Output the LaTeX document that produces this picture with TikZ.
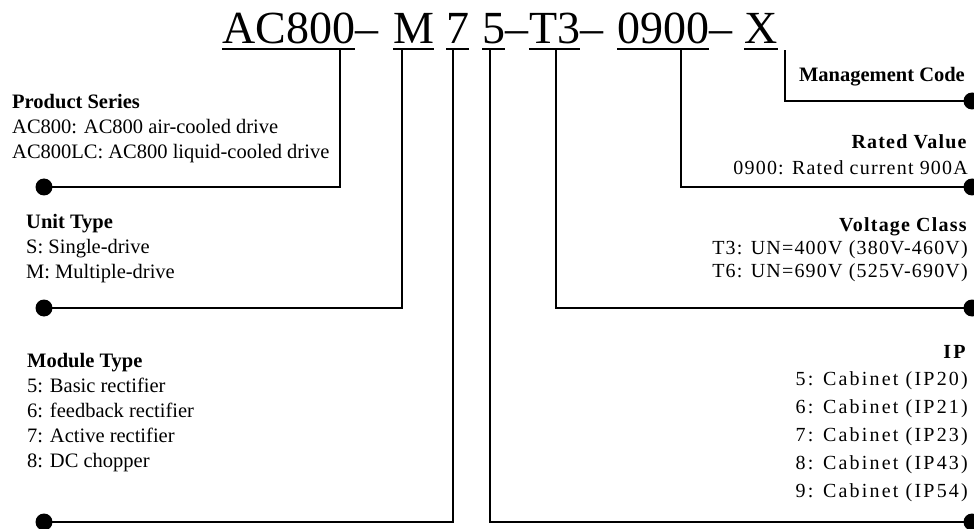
\documentclass[tikz,border=0pt]{standalone}
\usepackage{fontspec}
\setmainfont{Liberation Serif}
\newfontfamily\spacedfont[LetterSpace=6]{Liberation Serif}
\newfontfamily\widefont[LetterSpace=11]{Liberation Serif}

\tikzset{
  code/.style={font=\fontsize{46}{46}\selectfont, inner sep=0pt, anchor=base west},
  uline/.style={line width=1.6pt},
  lead/.style={line width=1.6pt},
  enddot/.style={circle, fill=black, inner sep=0pt, minimum size=17pt},
  leftinfo/.style={font=\fontsize{20.5}{25}\selectfont, align=left,
    anchor=base west, inner sep=0pt},
  rightinfo/.style={font=\spacedfont\fontsize{20}{25}\selectfont, align=right,
    anchor=base east, inner sep=0pt}
}

\begin{document}
\begin{tikzpicture}[x=1pt, y=-1pt]

  \useasboundingbox (0,0) rectangle (974,529);

  % ================================================================
  % Type code (top line)
  % ================================================================

  \node[code] (tAC) at (222,44) {AC800};
  \node[code] (d1) at (tAC.base east) {--};
  \node[code] (tM) at (393,44) {M};
  \node[code] (t7) at (446,44) {7};
  \node[code] (t5) at (482,44) {5};
  \node[code] (d2) at (t5.base east) {--};
  \node[code] (tT) at (d2.base east) {T3};
  \node[code] (d3) at (tT.base east) {--};
  \node[code] (t09) at (617,44) {0900};
  \node[code] (d4) at (t09.base east) {--};
  \node[code] (tX) at (744,44) {X};

  \foreach \seg in {tAC, tM, t7, t5, tT, t09, tX}
    \draw[uline] ([yshift=-5pt]\seg.base west) -- ([yshift=-5pt]\seg.base east);

  % taps under the code
  \coordinate (tapAC) at (340,49);
  \coordinate (tapM)  at (402,49);
  \coordinate (tap7)  at (453,49);
  \coordinate (tap5)  at (490,49);
  \coordinate (tapT)  at (556,49);
  \coordinate (tap09) at (681,49);
  \coordinate (tapX)  at (785,50);

  % ================================================================
  % Left side (base = last line)
  % ================================================================

  \node[leftinfo] (psText) at (12,159)
    {\textbf{Product Series}\\
     AC800: AC800 air-cooled drive\\
     AC800LC: AC800 liquid-cooled drive};
  \node[enddot] (psDot) at (44,187) {};

  \node[leftinfo] (utText) at (26,279)
    {\textbf{Unit Type}\\
     S: Single-drive\\
     M: Multiple-drive};
  \node[enddot] (utDot) at (44,308) {};

  \node[leftinfo] (mtText) at (27,467)
    {\textbf{Module Type}\\
     5: Basic rectifier\\
     6: feedback rectifier\\
     7: Active rectifier\\
     8: DC chopper};
  \node[enddot] (mtDot) at (44,522) {};

  % ================================================================
  % Right side (base = last line)
  % ================================================================

  \node[rightinfo, font=\fontsize{20.5}{25}\selectfont] (mcText) at (965,82)
    {\textbf{Management Code}};
  \node[enddot] (mcDot) at (972,101) {};

  \node[rightinfo, font=\spacedfont\fontsize{20}{26}\selectfont] (rvText) at (968,175)
    {\textbf{Rated Value}\\
     0900: Rated current 900A};
  \node[enddot] (rvDot) at (972,187) {};

  \node[rightinfo, font=\spacedfont\fontsize{20}{23.5}\selectfont] (vcText) at (968,278)
    {\textbf{Voltage Class}\\
     T3: UN=400V (380V-460V)\\
     T6: UN=690V (525V-690V)};
  \node[enddot] (vcDot) at (972,308) {};

  \node[rightinfo, font=\widefont\fontsize{20}{27.8}\selectfont] (ipText) at (968,497)
    {\textbf{IP}\\
     5: Cabinet (IP20)\\
     6: Cabinet (IP21)\\
     7: Cabinet (IP23)\\
     8: Cabinet (IP43)\\
     9: Cabinet (IP54)};
  \node[enddot] (ipDot) at (972,522) {};

  % ================================================================
  % Leads
  % ================================================================

  \draw[lead] (psDot.center) -| (tapAC);
  \draw[lead] (utDot.center) -| (tapM);
  \draw[lead] (mtDot.center) -| (tap7);
  \draw[lead] (ipDot.center) -| (tap5);
  \draw[lead] (vcDot.center) -| (tapT);
  \draw[lead] (rvDot.center) -| (tap09);
  \draw[lead] (mcDot.center) -| (tapX);

\end{tikzpicture}
\end{document}
